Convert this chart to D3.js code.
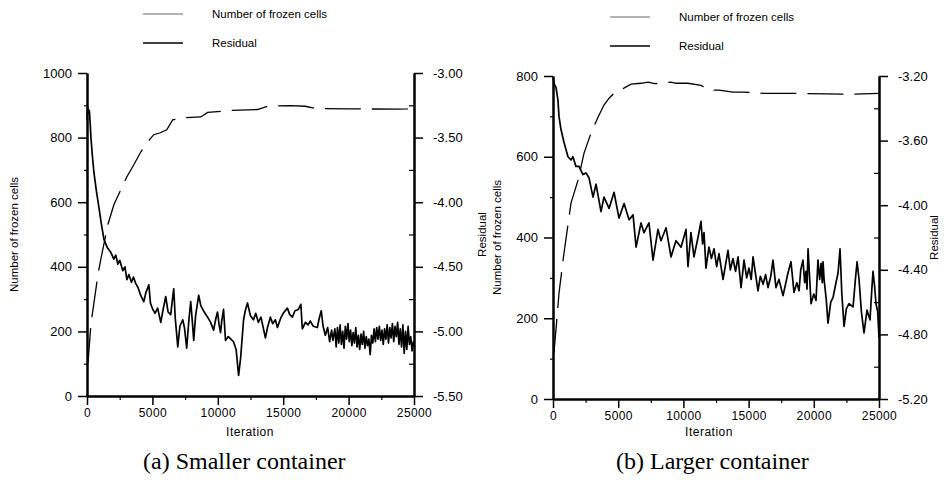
<!DOCTYPE html>
<html>
<head>
<meta charset="utf-8">
<script src="https://cdn.jsdelivr.net/npm/d3@7"></script>
<style>
    body { margin: 0; background: #fff; }
    text { font-family: "Liberation Sans", Arial, sans-serif; fill: #000; }
    .caption { font-family: "Liberation Serif", "Times New Roman", serif; font-size: 24px; }
</style>
</head>
<body>
<svg id="chart" width="944" height="495"></svg>
<script>
// Tick values
const iterTicks = [0, 5000, 10000, 15000, 20000, 25000];
const iterMinor = [2500, 7500, 12500, 17500, 22500];
const cellTicksA = [0, 200, 400, 600, 800, 1000];
const cellMinorA = [100, 300, 500, 700, 900];
const resTicksA = [-3.0, -3.5, -4.0, -4.5, -5.0, -5.5];
const resMinorA = [-3.25, -3.75, -4.25, -4.75, -5.25];
const cellTicksB = [0, 200, 400, 600, 800];
const cellMinorB = [100, 300, 500, 700];
const resTicksB = [-3.2, -3.6, -4.0, -4.4, -4.8, -5.2];
const resMinorB = [-3.4, -3.8, -4.2, -4.6, -5.0];

// (a) smaller container: [iteration, value]
const frozenA = [
    [0, 100], [80, 104], [300, 222], [460, 268], [840, 377], [1070, 426], [1600, 531],
    [2060, 593], [2600, 640], [3050, 679], [3580, 716], [4120, 756], [4600, 785],
    [5100, 809], [5600, 815], [6100, 824], [6550, 855], [7500, 862], [8700, 864],
    [9220, 878], [11000, 884], [13030, 887], [13870, 898], [15500, 899], [16690, 897],
    [17530, 890], [20000, 889], [23700, 888], [24500, 889], [25000, 896]
];
const residualA = [
    [0, -3.36], [60, -3.27], [120, -3.31], [180, -3.29], [250, -3.40], [300, -3.50], [420, -3.65],
    [530, -3.77], [700, -3.90], [910, -4.04], [1100, -4.17], [1300, -4.29], [1550, -4.35],
    [1830, -4.39], [2050, -4.44], [2200, -4.41], [2360, -4.48], [2500, -4.45], [2740, -4.53],
    [2900, -4.50], [3050, -4.60], [3200, -4.56], [3400, -4.62], [3550, -4.58], [3730, -4.63],
    [3900, -4.66], [4100, -4.72], [4340, -4.77], [4500, -4.70], [4730, -4.64], [4850, -4.78],
    [5030, -4.83], [5200, -4.86], [5400, -4.82], [5640, -4.93], [5800, -4.84], [6020, -4.73],
    [6200, -4.85], [6400, -4.87], [6500, -4.78], [6630, -4.67], [6750, -4.90], [6940, -5.12],
    [7100, -4.96], [7320, -4.91], [7450, -4.97], [7620, -5.13], [7800, -4.90], [7930, -4.77],
    [8050, -4.92], [8160, -5.07], [8300, -4.88], [8540, -4.72], [8700, -4.80], [8900, -4.84],
    [9220, -4.89], [9450, -4.93], [9680, -4.99], [9850, -4.90], [9980, -4.85], [10100, -4.95],
    [10210, -5.01], [10300, -4.92], [10440, -4.83], [10590, -5.07], [10800, -5.04], [11000, -5.06],
    [11200, -5.08], [11400, -5.14], [11590, -5.34], [11750, -5.20], [11970, -4.91], [12100, -4.84],
    [12270, -4.78], [12500, -4.88], [12730, -4.91], [12900, -4.86], [13100, -4.93], [13300, -4.89],
    [13640, -5.05], [13800, -4.97], [14020, -4.89], [14200, -4.94], [14400, -4.91], [14560, -4.97],
    [14800, -4.90], [15000, -4.86], [15320, -4.82], [15500, -4.87], [15700, -4.89], [15900, -4.84],
    [16160, -4.83], [16350, -4.79], [16460, -4.98], [16700, -4.93], [16900, -4.95], [17070, -4.92],
    [17300, -4.96], [17610, -4.97], [17750, -4.90], [17910, -4.84], [18050, -4.96], [18220, -5.03],
    [18400, -4.97], [18550, -5.08], [18700, -4.99], [18800, -5.07], [18950, -4.98], [19050, -5.12],
    [19150, -4.97], [19250, -5.09], [19350, -4.95], [19450, -5.10], [19550, -5.00], [19650, -5.13],
    [19750, -4.96], [19850, -5.06], [19950, -4.94], [20050, -5.08], [20150, -4.99], [20250, -5.11],
    [20350, -5.01], [20450, -5.09], [20550, -4.97], [20650, -5.12], [20750, -5.03], [20850, -5.14],
    [20950, -5.02], [21050, -5.10], [21150, -5.00], [21250, -5.13], [21350, -5.04], [21450, -5.11],
    [21550, -5.06], [21650, -5.18], [21750, -5.03], [21850, -5.09], [21950, -4.98], [22050, -5.08],
    [22150, -4.97], [22250, -5.06], [22350, -4.96], [22450, -5.07], [22550, -4.99], [22650, -5.10],
    [22750, -4.98], [22850, -5.06], [22950, -4.95], [23050, -5.09], [23150, -4.97], [23250, -5.05],
    [23350, -4.94], [23450, -5.08], [23550, -4.96], [23650, -5.04], [23750, -4.93], [23850, -5.10],
    [23950, -4.98], [24050, -5.12], [24150, -4.95], [24250, -5.17], [24350, -5.00], [24450, -5.14],
    [24550, -4.96], [24650, -5.10], [24750, -5.04], [24850, -5.15], [24950, -5.08], [25000, -5.12]
];

// (b) larger container
const frozenB = [
    [0, 110], [80, 116], [310, 203], [460, 262], [840, 361], [1380, 485], [1920, 542],
    [2380, 609], [2910, 658], [3450, 698], [3910, 728], [4300, 745], [4680, 757], [5440, 770],
    [5980, 780], [6750, 782], [7290, 785], [7800, 781], [8280, 782], [9050, 785], [9430, 782],
    [10350, 782], [11350, 777], [11960, 765], [12730, 765], [13800, 760], [14650, 760],
    [16180, 757], [17330, 757], [18480, 757], [23080, 755], [25000, 757]
];
const residualB = [
    [0, -3.21], [100, -3.25], [230, -3.27], [380, -3.35], [460, -3.45], [610, -3.53], [840, -3.61],
    [1150, -3.70], [1380, -3.72], [1530, -3.70], [1760, -3.76], [1990, -3.76], [2300, -3.81],
    [2530, -3.80], [2760, -3.83], [3070, -3.95], [3300, -3.87], [3680, -4.04], [3910, -3.95],
    [4300, -4.02], [4680, -3.92], [5060, -4.08], [5450, -3.99], [5830, -4.09], [6140, -4.06],
    [6370, -4.26], [6750, -4.11], [6980, -4.17], [7360, -4.11], [7670, -4.34], [8050, -4.15],
    [8280, -4.22], [8670, -4.14], [9050, -4.32], [9430, -4.22], [9820, -4.26], [10200, -4.15],
    [10350, -4.38], [10580, -4.17], [10810, -4.32], [11120, -4.20], [11350, -4.10], [11470, -4.24],
    [11580, -4.17], [11730, -4.39], [11960, -4.26], [12150, -4.33], [12350, -4.27], [12550, -4.38],
    [12730, -4.30], [13040, -4.46], [13420, -4.28], [13600, -4.40], [13800, -4.33], [14000, -4.41],
    [14190, -4.32], [14420, -4.51], [14650, -4.34], [14850, -4.45], [15030, -4.39], [15200, -4.46],
    [15340, -4.32], [15720, -4.53], [15900, -4.44], [16110, -4.49], [16300, -4.43], [16490, -4.51],
    [16700, -4.44], [16870, -4.34], [17100, -4.51], [17330, -4.46], [17640, -4.56], [18020, -4.42],
    [18250, -4.35], [18480, -4.54], [18700, -4.48], [18870, -4.53], [19000, -4.40], [19170, -4.34],
    [19300, -4.48], [19400, -4.41], [19480, -4.52], [19560, -4.27], [19680, -4.45], [19790, -4.61],
    [20000, -4.55], [20170, -4.59], [20320, -4.34], [20450, -4.46], [20560, -4.36], [20650, -4.48],
    [20710, -4.35], [20790, -4.46], [20950, -4.58], [21090, -4.73], [21300, -4.60], [21480, -4.57],
    [21700, -4.48], [21860, -4.42], [22010, -4.27], [22150, -4.55], [22320, -4.75], [22500, -4.64],
    [22700, -4.61], [23010, -4.63], [23200, -4.45], [23320, -4.35], [23470, -4.46], [23650, -4.66],
    [23850, -4.79], [24080, -4.65], [24310, -4.71], [24450, -4.52], [24540, -4.41], [24650, -4.49],
    [24770, -4.61], [24900, -4.66], [25000, -4.82]
];

const svg = d3.select("#chart");

const panels = [
    {
        left: 87, right: 414, top: 73, bottom: 396,
        cellMax: 1000, cellTicks: cellTicksA, cellMinor: cellMinorA,
        resDomain: [-5.5, -3.0], resTicks: resTicksA, resMinor: resMinorA,
        frozen: frozenA, residual: residualA,
        legendX: 143, legendY: 14,
        leftTitleX: 14, rightTitleX: 482, iterX: 250,
        caption: "(a) Smaller container", captionX: 143
    },
    {
        left: 553, right: 879, top: 76, bottom: 399,
        cellMax: 800, cellTicks: cellTicksB, cellMinor: cellMinorB,
        resDomain: [-5.2, -3.2], resTicks: resTicksB, resMinor: resMinorB,
        frozen: frozenB, residual: residualB,
        legendX: 610, legendY: 17,
        leftTitleX: 497, rightTitleX: 934, iterX: 709,
        caption: "(b) Larger container", captionX: 616
    }
];

function styleAxis(g, width) {
    g.select(".domain").attr("stroke", "#000").attr("stroke-width", 2);
    g.selectAll(".tick line").attr("stroke", "#000").attr("stroke-width", width);
    g.selectAll(".tick text").attr("fill", "#000").attr("font-family", null);
}

panels.forEach(p => {
    const x = d3.scaleLinear().domain([0, 25000]).range([p.left, p.right]);
    const yCells = d3.scaleLinear().domain([0, p.cellMax]).range([p.bottom, p.top]);
    const yRes = d3.scaleLinear().domain(p.resDomain).range([p.bottom, p.top]);

    // minor ticks first
    svg.append("g")
        .attr("transform", `translate(0,${p.bottom})`)
        .call(d3.axisBottom(x).tickValues(iterMinor).tickSize(4).tickSizeOuter(0).tickFormat(""))
        .call(g => styleAxis(g, 1.2));
    svg.append("g")
        .attr("transform", `translate(${p.left},0)`)
        .call(d3.axisLeft(yCells).tickValues(p.cellMinor).tickSize(3).tickSizeOuter(0).tickFormat(""))
        .call(g => styleAxis(g, 1.2));
    svg.append("g")
        .attr("transform", `translate(${p.right},0)`)
        .call(d3.axisRight(yRes).tickValues(p.resMinor).tickSize(-5).tickSizeOuter(0).tickFormat(""))
        .call(g => styleAxis(g, 1.2));

    // major axes
    svg.append("g")
        .attr("transform", `translate(0,${p.bottom})`)
        .call(d3.axisBottom(x).tickValues(iterTicks).tickSize(9).tickSizeOuter(0).tickPadding(3).tickFormat(d3.format("d")))
        .call(g => styleAxis(g, 1.5))
        .call(g => g.selectAll(".tick text").attr("font-size", 12).attr("letter-spacing", 0.4));
    svg.append("g")
        .attr("transform", `translate(${p.left},0)`)
        .call(d3.axisLeft(yCells).tickValues(p.cellTicks).tickSize(9).tickSizeOuter(0).tickPadding(6).tickFormat(d3.format("d")))
        .call(g => styleAxis(g, 1.5))
        .call(g => g.selectAll(".tick text").attr("font-size", 13));
    svg.append("g")
        .attr("transform", `translate(${p.right},0)`)
        .call(d3.axisRight(yRes).tickValues(p.resTicks).tickSize(9).tickSizeOuter(0).tickPadding(10).tickFormat(d => d.toFixed(2)))
        .call(g => styleAxis(g, 1.5))
        .call(g => g.selectAll(".tick text").attr("font-size", 13));

    // curves
    const cellLine = d3.line().x(d => x(d[0])).y(d => yCells(d[1]));
    const resLine = d3.line().x(d => x(d[0])).y(d => yRes(d[1]));

    svg.append("path")
        .datum(p.frozen)
        .attr("d", cellLine)
        .attr("fill", "none")
        .attr("stroke", "#000")
        .attr("stroke-width", 1.3)
        .attr("stroke-dasharray", "36,11");

    svg.append("path")
        .datum(p.residual)
        .attr("d", resLine)
        .attr("fill", "none")
        .attr("stroke", "#000")
        .attr("stroke-width", 1.7)
        .attr("stroke-linejoin", "round");

    // legend
    const lg = svg.append("g").attr("transform", `translate(${p.legendX},${p.legendY})`);
    lg.append("line").attr("x1", 0).attr("x2", 40).attr("y1", 0).attr("y2", 0)
        .attr("stroke", "#555").attr("stroke-width", 0.9);
    lg.append("text").attr("x", 69).attr("y", 0).attr("dy", "0.35em")
        .attr("font-size", 11.5).text("Number of frozen cells");
    lg.append("line").attr("x1", 0).attr("x2", 40).attr("y1", 29).attr("y2", 29)
        .attr("stroke", "#000").attr("stroke-width", 1.5);
    lg.append("text").attr("x", 69).attr("y", 29).attr("dy", "0.35em")
        .attr("font-size", 11.5).text("Residual");

    // axis titles
    const midY = (p.top + p.bottom) / 2;
    svg.append("text")
        .attr("transform", `translate(${p.leftTitleX},${midY}) rotate(-90)`)
        .attr("text-anchor", "middle").attr("dy", "0.35em")
        .attr("font-size", 11.5).text("Number of frozen cells");
    svg.append("text")
        .attr("transform", `translate(${p.rightTitleX},${midY}) rotate(-90)`)
        .attr("text-anchor", "middle").attr("dy", "0.35em")
        .attr("font-size", 11.5).text("Residual");
    svg.append("text")
        .attr("x", p.iterX).attr("y", 436)
        .attr("text-anchor", "middle")
        .attr("font-size", 12).attr("letter-spacing", 0.5).text("Iteration");

    svg.append("text")
        .attr("class", "caption")
        .attr("x", p.captionX).attr("y", 469)
        .text(p.caption);
});
</script>
</body>
</html>
